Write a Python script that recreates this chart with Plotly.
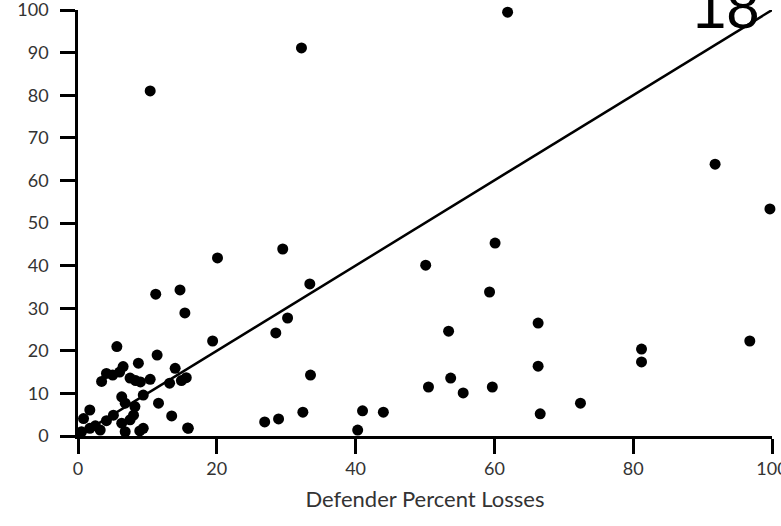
import plotly.graph_objects as go

# Scatter data (Defender Percent Losses vs. attacker losses)
x_vals = [10.4, 32.2, 61.9, 91.8, 99.7, 20.1, 29.5, 50.1, 60.1, 59.3,
          11.2, 14.7, 15.4, 33.4, 30.2, 28.5, 19.4, 53.4, 66.3, 81.2,
          81.2, 96.8, 66.3, 33.5, 50.5, 53.7, 55.5, 59.7, 66.6, 72.4,
          26.9, 28.9, 32.4, 41.0, 44.0, 40.3, 15.8,
          5.6, 11.4, 8.7, 6.5, 14.0,
          3.4, 4.1, 5.0, 6.0, 7.5, 8.3, 9.0, 10.4, 13.2, 14.9, 15.6,
          6.3, 6.8, 9.4, 11.6, 8.2, 8.0, 13.5, 1.7, 0.8, 5.1, 4.1, 2.5, 6.3, 7.5,
          1.7, 3.2, 0.5, 9.4, 8.9, 15.9, 6.8]
y_vals = [81.0, 91.1, 99.5, 63.8, 53.3, 41.8, 43.9, 40.1, 45.3, 33.8,
          33.3, 34.3, 28.9, 35.7, 27.7, 24.2, 22.3, 24.6, 26.5, 20.4,
          17.4, 22.3, 16.4, 14.3, 11.5, 13.6, 10.1, 11.5, 5.2, 7.7,
          3.3, 4.0, 5.6, 5.9, 5.6, 1.4, 1.9,
          21.0, 19.0, 17.1, 16.3, 15.9,
          12.8, 14.7, 14.3, 15.0, 13.6, 13.0, 12.7, 13.3, 12.4, 13.0, 13.7,
          9.2, 7.7, 9.6, 7.7, 6.9, 4.9, 4.7, 6.1, 4.1, 4.9, 3.6, 2.4, 3.0, 3.8,
          1.8, 1.4, 1.0, 1.8, 1.2, 1.8, 1.0]

line_x = [0, 100]
line_y = [0, 100]

x_ticks = [0, 20, 40, 60, 80, 100]
y_ticks = [0, 10, 20, 30, 40, 50, 60, 70, 80, 90, 100]
x_title = "Defender Percent Losses"
panel_label = "18"

fig = go.Figure()
fig.add_trace(go.Scatter(x=line_x, y=line_y, mode="lines",
                         line=dict(color="black", width=2.5),
                         hoverinfo="skip", showlegend=False, cliponaxis=False))
fig.add_trace(go.Scatter(x=x_vals, y=y_vals, mode="markers",
                         marker=dict(color="black", size=11),
                         showlegend=False, cliponaxis=False))

tick_font = dict(family="Lato, sans-serif", size=18, color="#333333")

fig.update_layout(
    width=781, height=526,
    margin=dict(l=78, r=9, t=10, b=90),
    paper_bgcolor="white", plot_bgcolor="white",
    xaxis=dict(range=[0, 100], tickvals=x_ticks, ticktext=[str(v) for v in x_ticks],
               showgrid=False, zeroline=False, showline=True, linecolor="black",
               linewidth=2.5, ticks="outside", ticklen=15, tickwidth=2.5,
               tickcolor="black", tickfont=tick_font, ticklabelstandoff=0,
               ticklabeloverflow="allow", automargin=False,
               title=dict(text=x_title, font=dict(family="Lato, sans-serif", size=22,
                                                  color="#333333"), standoff=14)),
    yaxis=dict(range=[0, 100], tickvals=y_ticks, ticktext=[str(v) for v in y_ticks],
               showgrid=False, zeroline=False, showline=True, linecolor="black",
               linewidth=2.5, ticks="outside", ticklen=15, tickwidth=2.5,
               tickcolor="black", tickfont=tick_font, ticklabelstandoff=8,
               ticklabeloverflow="allow", automargin=False),
)

fig.add_annotation(text=panel_label, xref="paper", yref="paper",
                   x=(726 - 78) / 694, y=(436 - 8) / 426,
                   xanchor="center", yanchor="middle", showarrow=False,
                   font=dict(family="Liberation Sans, Arial, sans-serif", size=60,
                             color="black"))

fig.write_html("out.html")
